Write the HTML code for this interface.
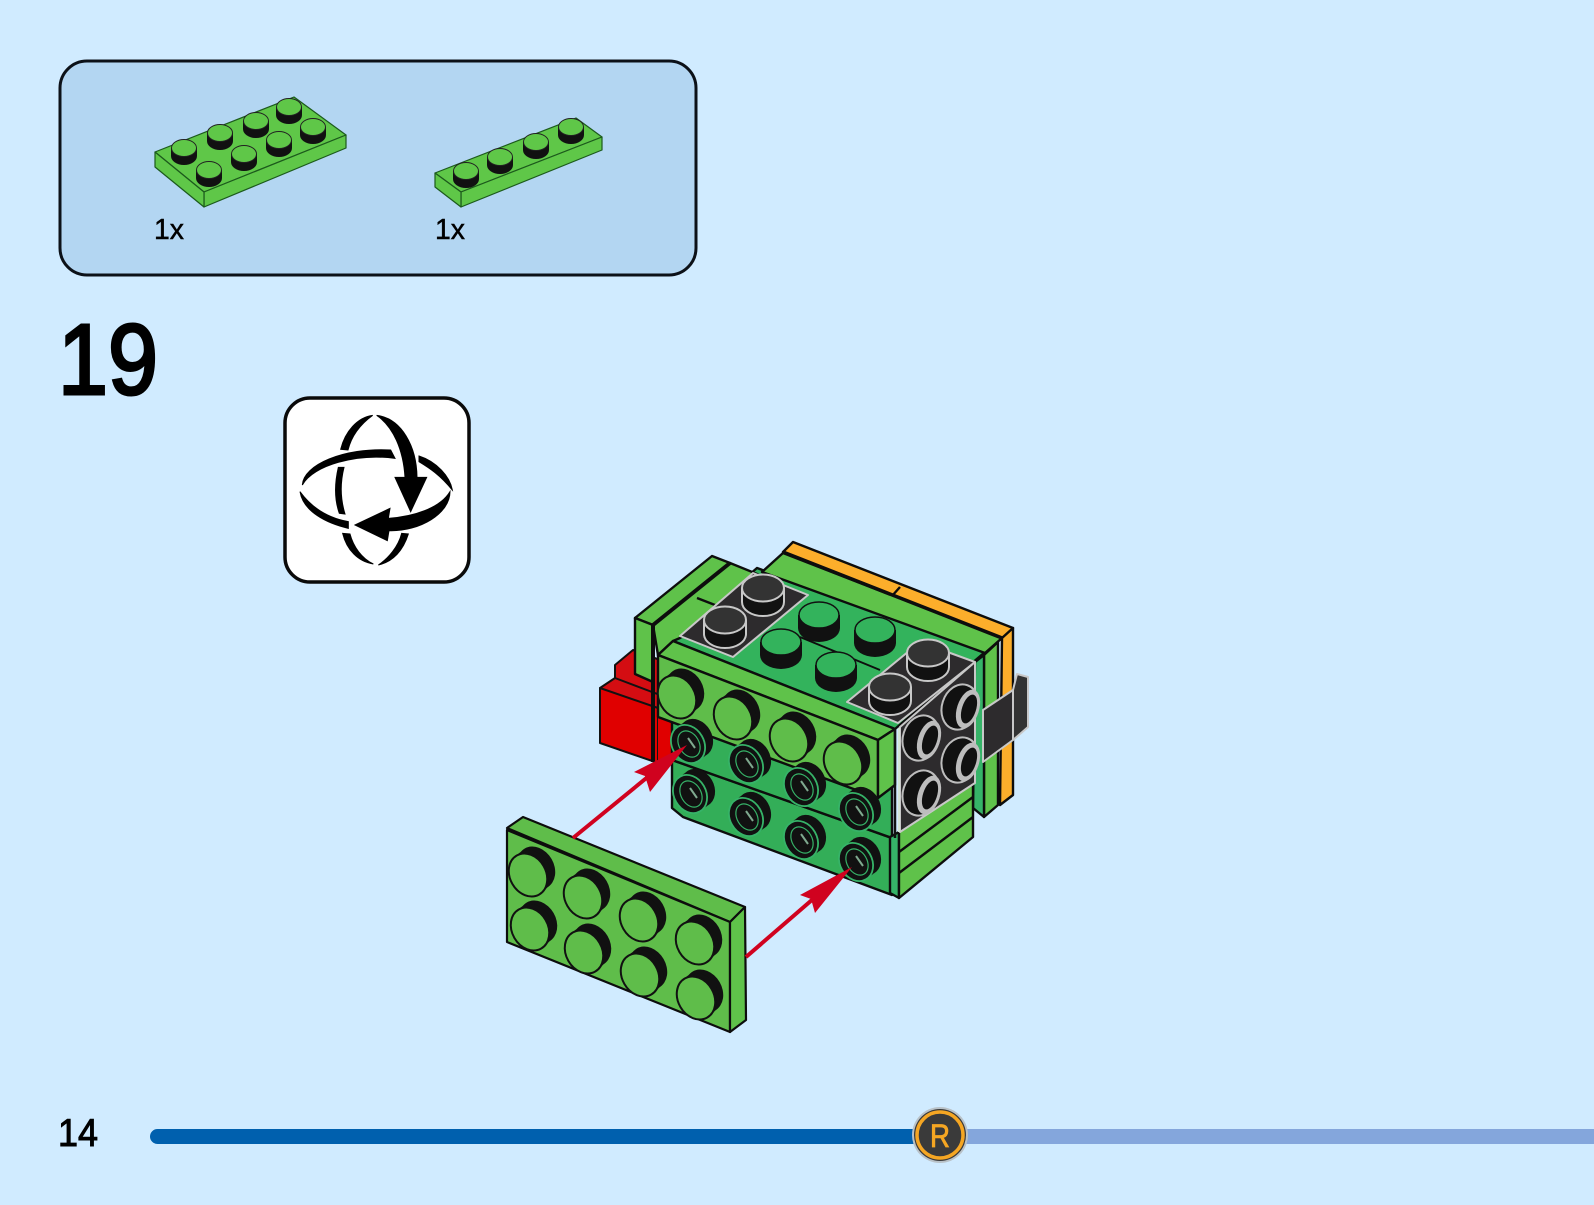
<!DOCTYPE html>
<html><head><meta charset="utf-8"><style>
html,body{margin:0;padding:0;background:#d0ebff;width:1594px;height:1205px;overflow:hidden}
svg{display:block}
text{font-family:"Liberation Sans",sans-serif;fill:#000}
</style></head><body>
<svg width="1594" height="1205" viewBox="0 0 1594 1205" xmlns="http://www.w3.org/2000/svg">
<defs>
<g id="ss"><ellipse cx="0" cy="8" rx="13" ry="9" fill="#111"/><rect x="-13" y="0" width="26" height="8" fill="#111"/><ellipse cx="0" cy="0" rx="12.5" ry="8.5" fill="#5fc748" stroke="#222" stroke-width="1"/></g>
<g id="ts"><ellipse cx="0" cy="13" rx="21" ry="14" fill="#111"/><rect x="-21" y="0" width="42" height="13" fill="#111"/><ellipse cx="0" cy="0" rx="20" ry="13" fill="#33b35c" stroke="#111" stroke-width="1.5"/></g>
<g id="gs"><ellipse cx="0" cy="14" rx="21" ry="14" fill="#111" stroke="#c8c8c8" stroke-width="2"/><rect x="-21" y="0" width="42" height="14" fill="#111"/><line x1="-21" y1="0" x2="-21" y2="14" stroke="#c8c8c8" stroke-width="2"/><line x1="21" y1="0" x2="21" y2="14" stroke="#c8c8c8" stroke-width="2"/><ellipse cx="0" cy="0" rx="21" ry="13.5" fill="#333" stroke="#c8c8c8" stroke-width="2"/></g>
<g id="fs"><ellipse cx="8" cy="-7" rx="18" ry="22.5" transform="rotate(-30 8 -7)" fill="#111"/><ellipse cx="4" cy="-3.5" rx="18" ry="22.5" transform="rotate(-30 4 -3.5)" fill="#111"/><ellipse cx="0" cy="0" rx="18" ry="22.5" transform="rotate(-30)" fill="#5fbd4a" stroke="#111" stroke-width="2"/></g>
<g id="hs"><ellipse cx="8" cy="-6" rx="16" ry="20" transform="rotate(-30 8 -6)" fill="#111"/><ellipse cx="4" cy="-3" rx="16" ry="20" transform="rotate(-30 4 -3)" fill="#111"/><ellipse cx="0" cy="0" rx="16" ry="20" transform="rotate(-30)" fill="#111" stroke="#36b368" stroke-width="1.8"/><ellipse cx="1" cy="0" rx="10" ry="14" transform="rotate(-30 1 0)" fill="none" stroke="#36b368" stroke-width="1.2"/><line x1="0" y1="-6" x2="7" y2="4" stroke="#7fa98f" stroke-width="2"/></g>
<g id="bs"><ellipse cx="0" cy="0" rx="18" ry="23" transform="rotate(18)" fill="#111" stroke="#bdbdbd" stroke-width="2"/><ellipse cx="8" cy="2" rx="11" ry="20" transform="rotate(18 8 2)" fill="#bdbdbd"/><ellipse cx="9" cy="2" rx="7" ry="15" transform="rotate(18 9 2)" fill="#111"/></g>
</defs>
<rect width="1594" height="1205" fill="#d0ebff"/>

<!-- parts panel -->
<rect x="60" y="61" width="636" height="214" rx="27" ry="27" fill="#b3d6f2" stroke="#0c1118" stroke-width="3"/>
<g stroke="#1c5a1c" stroke-width="1.2" stroke-linejoin="round">
<polygon points="155,152 294,97 346,135 204,192" fill="#5fc748"/>
<polygon points="204,192 346,135 346,148 204,207" fill="#5fc748"/>
<polygon points="155,152 204,192 204,207 155,167" fill="#5fc748"/>
<polygon points="435,173 576,118 602,137 461,192" fill="#5fc748"/>
<polygon points="461,192 602,137 602,150 461,207" fill="#5fc748"/>
<polygon points="435,173 461,192 461,207 435,187" fill="#5fc748"/>
</g>
<use href="#ss" x="289" y="107"/><use href="#ss" x="256" y="121"/><use href="#ss" x="220" y="133"/><use href="#ss" x="184" y="148"/>
<use href="#ss" x="313" y="127"/><use href="#ss" x="279" y="140"/><use href="#ss" x="244" y="154"/><use href="#ss" x="209" y="170"/>
<use href="#ss" x="571" y="127"/><use href="#ss" x="536" y="142"/><use href="#ss" x="500" y="157"/><use href="#ss" x="466" y="171"/>
<text x="154" y="239" font-size="29" textLength="30" lengthAdjust="spacingAndGlyphs" stroke="#000" stroke-width=".5">1x</text>
<text x="435" y="239" font-size="29" textLength="30" lengthAdjust="spacingAndGlyphs" stroke="#000" stroke-width=".5">1x</text>

<!-- step number -->
<text x="58" y="394" font-size="100" textLength="100" lengthAdjust="spacingAndGlyphs" stroke="#000" stroke-width="3">19</text>

<!-- rotate icon -->
<rect x="285" y="398" width="184" height="184" rx="25" ry="25" fill="#fff" stroke="#0a0a0a" stroke-width="3.5"/>
<g transform="translate(270,390) scale(.33333)" fill="#000" stroke="#000" stroke-width="3">
<path d="M212,178 C225,125 262,82 308,76 C275,100 245,135 234,180Z"/>
<path d="M320,76 C395,85 440,170 441,262 L470,262 L422,365 L375,262 L405,262 C400,180 370,110 320,76Z"/>
<path d="M97,285 C100,225 220,172 362,180 L375,205 C260,190 130,225 97,285Z"/>
<path d="M447,198 C500,215 540,260 547,300 C510,255 480,235 447,215Z"/>
<path d="M205,232 L222,232 C210,280 212,330 225,372 L208,370 C192,325 195,275 205,232Z"/>
<path d="M90,305 C130,360 180,385 235,395 L235,415 C170,400 100,365 90,305Z"/>
<path d="M255,405 L360,355 L355,385 C430,380 510,355 540,305 C540,370 450,425 357,422 L352,452Z"/>
<path d="M218,430 L240,432 C250,470 275,505 310,522 C265,515 230,480 218,430Z"/>
<path d="M395,430 L415,432 C400,480 370,515 325,525 C355,505 385,470 395,430Z"/>
</g>

<!-- red bricks -->
<g stroke="#111" stroke-width="2" stroke-linejoin="round">
<polygon points="615,665 633,650 660,660 660,695 615,680" fill="#d40d12"/>
<polygon points="600,688 615,678 660,695 660,712 600,692" fill="#d40d12"/>
<polygon points="600,688 658,708 658,763 600,743" fill="#e00000"/>
<polygon points="658,712 672,720 672,765 658,762" fill="#e00000" stroke="none"/>
</g>

<!-- main model -->
<g stroke="#0d0d0d" stroke-width="2.4" stroke-linejoin="round">
<!-- orange -->
<polygon points="783,552 793,542 1013,628 1002,640" fill="#fcae2b"/>
<polygon points="1002,638 1013,628 1013,795 1000,805" fill="#fcae2b"/>
<line x1="900" y1="587" x2="892" y2="596"/>
<!-- top surface -->
<polygon points="757,568 985,652 895,729 673,641" fill="#33b35c"/>
<!-- back green band -->
<polygon points="762,572 783,553 1002,638 985,653" fill="#5fc24a"/>
<line x1="783" y1="552" x2="1002" y2="638" stroke-width="3.6"/>
<polygon points="984,655 998,642 998,805 984,817" fill="#5fc24a"/>
<polygon points="975,662 984,655 984,817 973,808" fill="#36b368"/>
<line x1="800" y1="637" x2="880" y2="670" stroke-width="1.8"/>
<!-- tall left brick -->
<polygon points="635,618 712,556 730,563 653,625" fill="#5fc24a"/>
<polygon points="635,618 653,625 653,682 635,674" fill="#5fc24a"/>
<polygon points="653,625 730,563 767,578 680,638 673,641 658,655" fill="#5fc24a"/>
<line x1="653" y1="625" x2="730" y2="563" stroke-width="4"/>
<line x1="653" y1="625" x2="653" y2="762" stroke-width="4"/>
<line x1="697" y1="598" x2="715" y2="605"/>
<!-- third row -->
<polygon points="672,760 892,838 892,895 683,817 672,808" fill="#33ae58"/>
<!-- second row -->
<polygon points="672,720 877,795 892,785 892,838 672,760" fill="#33ae58"/>
<!-- front top brick -->
<polygon points="673,641 895,729 878,740 658,655" fill="#5fc24a"/>
<polygon points="658,655 878,740 878,798 658,717" fill="#5fbd4a"/>
<polygon points="878,740 895,729 895,785 878,798" fill="#5fc24a"/>
<!-- lower right layers -->
<polygon points="890,837 899,832 899,898 890,893" fill="#36b368"/>
<polygon points="899,832 973,782 973,837 899,898" fill="#5fc24a"/>
<line x1="899" y1="852" x2="973" y2="797"/>
<line x1="899" y1="873" x2="973" y2="817"/>
</g>

<!-- dark brick with studs -->
<g stroke="#c8c8c8" stroke-width="2" stroke-linejoin="round">
<polygon points="680,636 753,573 808,595 733,657" fill="#2d2b2d"/>
<polygon points="847,702 920,642 975,662 898,723" fill="#2d2b2d"/>
<polygon points="900,727 975,662 975,783 900,832" fill="#2d2b2d"/>
<polygon points="983,710 1013,690 1013,740 983,762" fill="#2d2b2d"/>
<polygon points="1013,690 1017,674 1028,677 1028,727 1013,740" fill="#333"/>
</g>
<line x1="895" y1="729" x2="895" y2="838" stroke="#111" stroke-width="2.5"/>
<line x1="899" y1="728" x2="899" y2="832" stroke="#d5e5d5" stroke-width="2"/>

<!-- top studs -->
<use href="#ts" x="819" y="615"/><use href="#ts" x="875" y="630"/><use href="#ts" x="781" y="642"/><use href="#ts" x="836" y="665"/>
<use href="#gs" x="763" y="588"/><use href="#gs" x="725" y="620"/><use href="#gs" x="928" y="653"/><use href="#gs" x="890" y="687"/>
<!-- side studs -->
<use href="#bs" x="960" y="707"/><use href="#bs" x="921" y="738"/><use href="#bs" x="960" y="760"/><use href="#bs" x="921" y="793"/>
<!-- front studs -->
<use href="#hs" x="688" y="744"/><use href="#hs" x="746" y="764"/><use href="#hs" x="801" y="787"/><use href="#hs" x="856" y="812"/>
<use href="#hs" x="690" y="794"/><use href="#hs" x="746" y="817"/><use href="#hs" x="801" y="840"/><use href="#hs" x="856" y="862"/>
<use href="#fs" x="677" y="697"/><use href="#fs" x="733" y="718"/><use href="#fs" x="789" y="740"/><use href="#fs" x="843" y="763"/>

<!-- loose plate -->
<g stroke="#0d0d0d" stroke-width="2.2" stroke-linejoin="round">
<polygon points="507,828 523,817 745,907 730,922" fill="#5fbd4a"/>
<polygon points="507,830 730,922 730,1032 507,942" fill="#5fbd4a"/>
<polygon points="730,922 745,907 746,1020 730,1032" fill="#5fc24a"/>
</g>
<use href="#fs" x="528" y="875"/><use href="#fs" x="583" y="897"/><use href="#fs" x="639" y="920"/><use href="#fs" x="695" y="943"/>
<use href="#fs" x="530" y="929"/><use href="#fs" x="584" y="952"/><use href="#fs" x="640" y="975"/><use href="#fs" x="696" y="998"/>

<!-- arrows -->
<g fill="#d0021f" stroke="none">
<line x1="573" y1="838" x2="655" y2="771" stroke="#d0021f" stroke-width="4"/>
<polygon points="687,745 634,772 645,776 650,792"/>
<line x1="746" y1="957" x2="820" y2="893" stroke="#d0021f" stroke-width="4"/>
<polygon points="852,867 800,895 811,899 815,913"/>
</g>

<!-- footer -->
<text x="58" y="1146" font-size="39" textLength="40" lengthAdjust="spacingAndGlyphs" stroke="#000" stroke-width="1">14</text>
<rect x="930" y="1129" width="664" height="15" fill="#84a6dc"/>
<rect x="150" y="1129" width="790" height="15" rx="7.5" fill="#0060ae"/>
<circle cx="940" cy="1135" r="28" fill="#b9c2c8"/>
<circle cx="940" cy="1135" r="26" fill="#3a3a3a"/>
<circle cx="940" cy="1135" r="23" fill="none" stroke="#f5a623" stroke-width="3.5"/>
<text x="940" y="1147" font-size="32" text-anchor="middle" textLength="20" lengthAdjust="spacingAndGlyphs" style="fill:#f5a623" stroke="#f5a623" stroke-width=".8">R</text>
</svg>
</body></html>
